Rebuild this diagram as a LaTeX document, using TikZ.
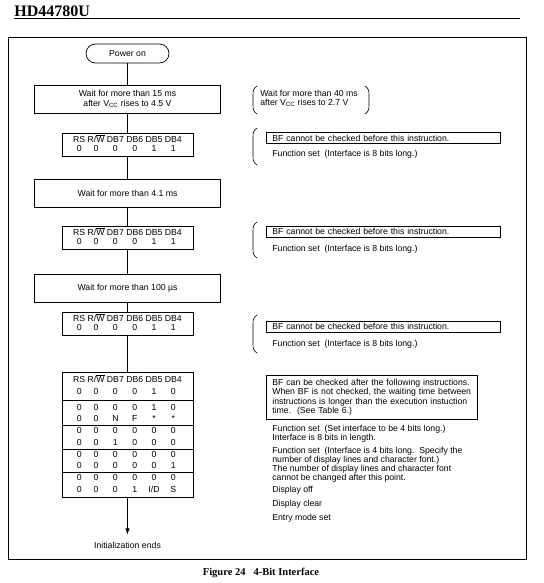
\documentclass[tikz,border=0pt]{standalone}
\usepackage{fontspec}
\setmainfont{Liberation Serif}
\newfontfamily\arialfont{Liberation Sans}
\usetikzlibrary{arrows.meta}

\newcommand{\diagfont}{\arialfont\fontsize{8.7}{9.2}\selectfont}
\newcommand{\rw}{R/$\overline{\mbox{W}}$}
\newcommand{\rshead}{RS & \rw & DB7 & DB6 & DB5 & DB4}
% half brackets: x, top, bottom
\newcommand{\lbrak}[3]{\draw[line width=0.6pt] (#1+4,#2) .. controls (#1+0.5,#2+2) and (#1,#2+5) .. (#1,#2+9) -- (#1,#3-9) .. controls (#1,#3-5) and (#1+0.5,#3-2) .. (#1+4,#3);}
\newcommand{\rbrak}[3]{\draw[line width=0.6pt] (#1-4,#2) .. controls (#1-0.5,#2+2) and (#1,#2+5) .. (#1,#2+9) -- (#1,#3-9) .. controls (#1,#3-5) and (#1-0.5,#3-2) .. (#1-4,#3);}

\begin{document}
\begin{tikzpicture}[x=1pt, y=-1pt, line width=0.7pt,
    every node/.append style={font=\diagfont, inner sep=0pt},
    waitbox/.style={draw, minimum width=186pt, minimum height=28pt, align=center},
    codebox/.style={draw, minimum width=131pt, minimum height=23pt,
      execute at begin node={\setlength\tabcolsep{1.2pt}\renewcommand\arraystretch{0.98}}},
    notebox/.style={draw, anchor=west, minimum height=11pt, text width=222pt, inner xsep=6pt},
    note/.style={anchor=north west, align=left}]
  \useasboundingbox (0,0) rectangle (543,583);

  % page head and frame
  \node[font=\rmfamily\bfseries\fontsize{16}{18}\selectfont, anchor=base west] (head) at (14,17) {HD44780U};
  \draw[line width=1pt] (14,19) -- (520,19);
  \draw (8,37) rectangle (526,559);

  % the flow
  \node[draw, rounded corners=9.5pt, minimum width=83pt, minimum height=19pt] (poweron) at (127.5,53.5) {Power on};
  \node[waitbox] (wait15) at (127.5,99) {Wait for more than 15 ms\\after V\textsubscript{CC} rises to 4.5 V};
  \node[codebox] (rsa) at (127.5,144.5) {\begin{tabular}{@{}cccccc@{}}\rshead\\0&0&0&0&1&1\end{tabular}};
  \node[waitbox] (wait41) at (127.5,193.5) {Wait for more than 4.1 ms};
  \node[codebox] (rsb) at (127.5,237.5) {\begin{tabular}{@{}cccccc@{}}\rshead\\0&0&0&0&1&1\end{tabular}};
  \node[waitbox] (wait100) at (127.5,288) {Wait for more than 100 µs};
  \node[codebox] (rsc) at (127.5,323.5) {\begin{tabular}{@{}cccccc@{}}\rshead\\0&0&0&0&1&1\end{tabular}};
  \node[draw, minimum width=131pt, minimum height=125pt,
    font=\arialfont\fontsize{8.7}{11.7}\selectfont,
    execute at begin node={\setlength\tabcolsep{1.2pt}}] (seq) at (127.5,435)
    {\begin{tabular}{@{}cccccc@{}}
      \rshead\\
      0&0&0&0&1&0\\[4.4pt]
      0&0&0&0&1&0\\
      0&0&N&F&*&*\\
      0&0&0&0&0&0\\
      0&0&1&0&0&0\\
      0&0&0&0&0&0\\
      0&0&0&0&0&1\\
      0&0&0&0&0&0\\
      0&0&0&1&I/D&S
    \end{tabular}};
  \foreach \ly in {400.7,425.7,449.3,472.7}
    \draw (seq.west |- 0,\ly) -- (seq.east |- 0,\ly);
  \node (initend) at (127.5,545) {Initialization ends};

  \draw (poweron) -- (wait15);
  \draw (wait15) -- (rsa);
  \draw (rsa) -- (wait41);
  \draw (wait41) -- (rsb);
  \draw (rsb) -- (wait100);
  \draw (wait100) -- (rsc);
  \draw (rsc) -- (seq);
  \draw[-{Latex[length=6pt,width=4.5pt]}, shorten >=7pt] (seq) -- (initend);

  % notes on the right
  \lbrak{253}{86}{114}
  \rbrak{369}{86}{114}
  \node[note] (vcc) at (260,89.8) {Wait for more than 40 ms\\after V\textsubscript{CC} rises to 2.7 V};

  \lbrak{253}{128}{165}
  \node[notebox] (bfa) at (266,138) {BF cannot be checked before this instruction.};
  \node[note] (fsa) at (272,150) {Function set\ \ (Interface is 8 bits long.)};

  \lbrak{253}{222}{258}
  \node[notebox] (bfb) at (266,231.5) {BF cannot be checked before this instruction.};
  \node[note] (fsb) at (272,244.5) {Function set\ \ (Interface is 8 bits long.)};

  \lbrak{253}{315}{353}
  \node[notebox] (bfc) at (266,326.7) {BF cannot be checked before this instruction.};
  \node[note] (fsc) at (272,339.5) {Function set\ \ (Interface is 8 bits long.)};

  \node[draw, anchor=north west, minimum height=44pt, text width=199pt, inner xsep=6pt, align=left,
    font=\arialfont\fontsize{8.7}{9.3}\selectfont] (bfok) at (266,375)
    {BF can be checked after the following instructions.\\When BF is not checked, the waiting time between\\instructions is longer than the execution instuction\\time.\ \ (See Table 6.)};
  \node[note] (fs4) at (272,424.7) {Function set\ \ (Set interface to be 4 bits long.)\\Interface is 8 bits in length.};
  \node[note] (fsnf) at (272,446.7) {Function set\ \ (Interface is 4 bits long.\ \ Specify the\\number of display lines and character font.)\\The number of display lines and character font\\cannot be changed after this point.};
  \node[note] (dispoff) at (272,485.7) {Display off};
  \node[note] (dispclr) at (272,499.7) {Display clear};
  \node[note] (entry) at (272,513.7) {Entry mode set};

  \node[font=\rmfamily\bfseries\fontsize{10.5}{12}\selectfont, anchor=base] (caption) at (261,575.5) {Figure 24\hspace{8pt}4-Bit Interface};
\end{tikzpicture}
\end{document}
